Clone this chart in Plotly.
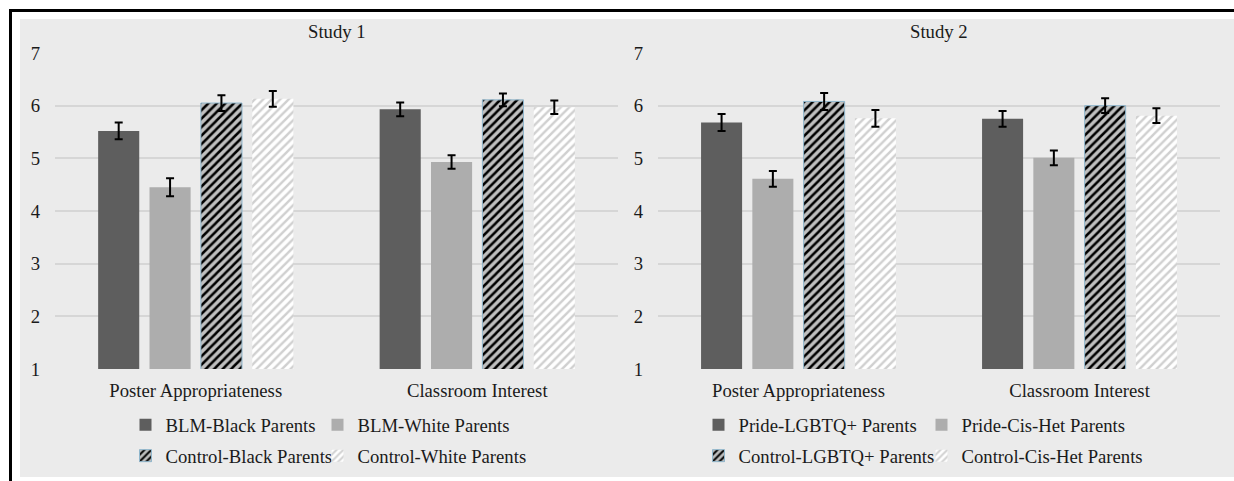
import plotly.graph_objects as go

# Outcome measures on the x axis
categories = ["Poster Appropriateness", "Classroom Interest"]

# Study 1 (BLM poster) means and standard errors
s1_names = ["BLM-Black Parents", "BLM-White Parents",
            "Control-Black Parents", "Control-White Parents"]
s1_means = [
    [5.52, 5.93],
    [4.45, 4.93],
    [6.05, 6.11],
    [6.13, 5.97],
]
s1_errs = [
    [0.16, 0.13],
    [0.17, 0.13],
    [0.15, 0.12],
    [0.15, 0.13],
]

# Study 2 (Pride poster) means and standard errors
s2_names = ["Pride-LGBTQ+ Parents", "Pride-Cis-Het Parents",
            "Control-LGBTQ+ Parents", "Control-Cis-Het Parents"]
s2_means = [
    [5.68, 5.75],
    [4.61, 5.01],
    [6.08, 6.00],
    [5.76, 5.81],
]
s2_errs = [
    [0.16, 0.15],
    [0.15, 0.14],
    [0.16, 0.14],
    [0.16, 0.14],
]

y_ticks = [1, 2, 3, 4, 5, 6, 7]

W, H = 1234, 481
FONT = "Liberation Serif, Times New Roman, serif"
FS = 18.7
BG = "#ebebeb"


def px_x(v):
    return v / W


def px_y(v):
    return 1 - v / H


# Fill styles for the four conditions: solid dark, solid light,
# black hatching, light hatching on white
styles = [
    dict(color="#5e5e5e", line=dict(color="#5e5e5e", width=0)),
    dict(color="#adadad", line=dict(color="#adadad", width=0)),
    dict(color="#bfbfbf", line=dict(color="#8fb6cc", width=1),
         pattern=dict(shape="/", fgcolor="#000000", bgcolor="#bfbfbf",
                      size=6, solidity=0.42, fillmode="replace")),
    dict(color="#ffffff", line=dict(color="#ffffff", width=0),
         pattern=dict(shape="/", fgcolor="#d0d0d0", bgcolor="#ffffff",
                      size=6, solidity=0.4, fillmode="replace")),
]

# One legend per entry, laid out as a 2x2 grid under each panel
# (left pixel of each legend box, row centre in pixels)
legend_slots = [
    [(125.5, 425), (317.5, 425), (125.5, 456), (317.5, 456)],
    [(698.5, 425), (921.5, 425), (698.5, 456), (921.5, 456)],
]

fig = go.Figure()

legend_layout = {}
legend_common = dict(orientation="h",
                     font=dict(family=FONT, size=FS, color="#1a1a1a"),
                     bgcolor="rgba(0,0,0,0)", borderwidth=0, xanchor="left",
                     yanchor="middle", itemclick=False, itemdoubleclick=False)

n = 0
for study, (names, means, errs, xa, ya) in enumerate([
        (s1_names, s1_means, s1_errs, "x", "y"),
        (s2_names, s2_means, s2_errs, "x2", "y2")]):
    for i, name in enumerate(names):
        n += 1
        lid = "legend" if n == 1 else f"legend{n}"
        lx, ly = legend_slots[study][i]
        legend_layout[lid] = dict(x=px_x(lx), y=px_y(ly), **legend_common)
        fig.add_trace(go.Bar(
            name=name,
            x=categories,
            y=means[i],
            marker=styles[i],
            error_y=dict(type="data", array=errs[i], color="#000000",
                         thickness=2, width=4),
            xaxis=xa, yaxis=ya,
            legend=lid,
        ))

y_domain = [px_y(369), px_y(53)]
axis_font = dict(family=FONT, size=FS, color="#1a1a1a")

common_y = dict(range=[1, 7], tickvals=y_ticks, showgrid=True,
                gridcolor="#d6d6d6", gridwidth=2, zeroline=False,
                showline=False, ticks="", tickfont=axis_font,
                ticklabelstandoff=14, domain=y_domain, fixedrange=True,
                automargin=False)
common_x = dict(showgrid=False, zeroline=False, showline=False, ticks="",
                tickfont=axis_font, ticklabelstandoff=8, fixedrange=True,
                automargin=False)

fig.update_layout(
    width=W, height=H,
    margin=dict(l=0, r=0, t=0, b=0, autoexpand=False),
    paper_bgcolor="#ffffff",
    plot_bgcolor="rgba(0,0,0,0)",
    barmode="group",
    bargap=0.27,
    bargroupgap=0.2,
    showlegend=True,
    xaxis=dict(domain=[px_x(55), px_x(618)], anchor="y", **common_x),
    yaxis=dict(anchor="x", **common_y),
    xaxis2=dict(domain=[px_x(658), px_x(1220)], anchor="y2", **common_x),
    yaxis2=dict(anchor="x2", **common_y),
    shapes=[
        # panel background
        dict(type="rect", xref="paper", yref="paper", layer="below",
             x0=px_x(20), x1=1, y0=px_y(477), y1=px_y(19),
             fillcolor=BG, line=dict(width=0)),
        # frame rules on top and left
        dict(type="line", xref="paper", yref="paper",
             x0=px_x(9), x1=1, y0=px_y(10.5), y1=px_y(10.5),
             line=dict(color="#000000", width=3)),
        dict(type="line", xref="paper", yref="paper",
             x0=px_x(10.5), x1=px_x(10.5), y0=0, y1=px_y(9),
             line=dict(color="#000000", width=3)),
    ],
    annotations=[
        dict(text="Study 1", xref="paper", yref="paper",
             x=(px_x(55) + px_x(618)) / 2, y=px_y(31), showarrow=False,
             xanchor="center", yanchor="middle",
             font=dict(family=FONT, size=FS, color="#1a1a1a")),
        dict(text="Study 2", xref="paper", yref="paper",
             x=(px_x(658) + px_x(1220)) / 2, y=px_y(31), showarrow=False,
             xanchor="center", yanchor="middle",
             font=dict(family=FONT, size=FS, color="#1a1a1a")),
    ],
    **legend_layout,
)

fig.write_html("out.html")
